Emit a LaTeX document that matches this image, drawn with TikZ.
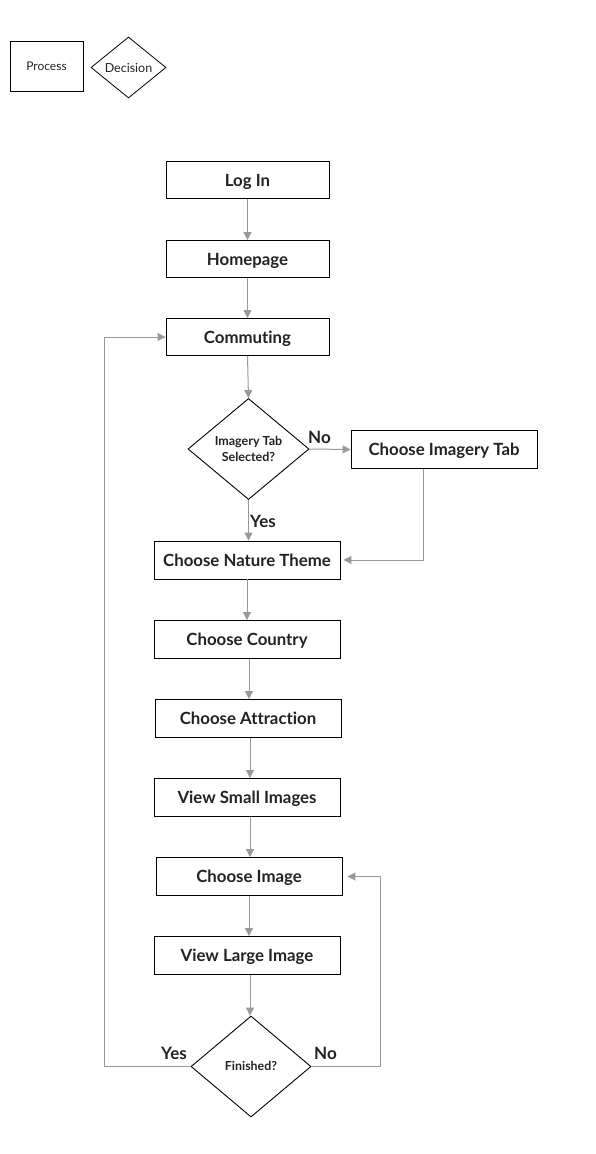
\documentclass[tikz,border=0pt]{standalone}
\usepackage{fontspec}
\setmainfont{Lato}[Ligatures={NoCommon}]
\usetikzlibrary{arrows.meta,shapes.geometric}
\definecolor{conn}{HTML}{999999}
\definecolor{txt}{HTML}{222222}
\tikzset{
  procbox/.style={draw=black,line width=0.9pt,minimum width=186pt,minimum height=38pt,inner sep=0pt,text height=12pt,text depth=0pt,font=\bfseries\fontsize{16.8}{19}\selectfont,text=txt},
  smallbox/.style={draw=black,line width=0.9pt,minimum width=163pt,minimum height=37pt,inner sep=0pt,text height=12pt,text depth=0pt,font=\bfseries\fontsize{16.8}{19}\selectfont,text=txt},
  decis/.style={draw=black,line width=0.9pt,diamond,inner sep=0pt,minimum width=121pt,minimum height=101pt,aspect=1.2,text=txt},
  conn/.style={draw=conn,line width=1pt,-{Triangle[length=8pt,width=8pt]}},
  lbl/.style={font=\bfseries\fontsize{17}{19}\selectfont,text=txt,inner sep=0pt}
}
\begin{document}
\begin{tikzpicture}[x=1pt,y=-1pt]
\useasboundingbox (0,0) rectangle (595,1154);
% legend
\node[draw=black,line width=0.8pt,minimum width=73pt,minimum height=50pt,inner sep=0pt,text height=8.6pt,text depth=0pt,font=\fontsize{12}{14}\selectfont,text=txt] (lp) at (46.5,66) {Process};
\node[draw=black,line width=0.8pt,diamond,inner sep=0pt,minimum width=75pt,minimum height=61pt,text height=9pt,text depth=0pt,font=\fontsize{12.5}{14}\selectfont,text=txt] (ld) at (128.5,67.5) {Decision};
% main
\node[smallbox] (login) at (247.5,180) {Log In};
\node[smallbox] (home) at (247.5,259) {Homepage};
\node[smallbox] (comm) at (247.5,337) {Commuting};
\node[decis,font=\bfseries\fontsize{12.5}{16}\selectfont,align=center] (d1) at (248.5,449) {\raisebox{-2pt}{\shortstack{Imagery Tab\\[1pt]Selected?}}};
\node[procbox] (tab) at (444,449.5) {Choose Imagery Tab};
\node[procbox] (nat) at (247,560) {Choose Nature Theme};
\node[procbox] (cty) at (247,639.5) {Choose Country};
\node[procbox] (att) at (248,718.5) {Choose Attraction};
\node[procbox] (vsi) at (247,797.5) {View Small Images};
\node[procbox] (cim) at (249,876.5) {Choose Image};
\node[procbox] (vli) at (247,955.5) {View Large Image};
\node[decis,minimum width=120pt,minimum height=101pt,text height=8.9pt,text depth=0pt,font=\bfseries\fontsize{12.4}{15}\selectfont] (fin) at (251,1066.5) {Finished?};
% connectors
\draw[conn] (login.south) -- (home.north);
\draw[conn] (home.south) -- (comm.north);
\draw[conn] (comm.south) -- (d1.north);
\draw[conn] (d1.east) -- (tab.west);
\draw[conn] (d1.south) -- (d1.south |- nat.north);
\coordinate (tabdown) at ([xshift=-21pt]tab.south);
\draw[conn] (tabdown) |- ([xshift=3pt]nat.east);
\draw[conn] (nat.south -| cty.north) -- (cty.north);
\draw[conn] ([xshift=2pt]cty.south) -- ([xshift=1pt]att.north);
\draw[conn] ([xshift=2pt]att.south) -- ([xshift=2pt]att.south |- vsi.north);
\draw[conn] ([xshift=3pt]vsi.south) -- ([xshift=1pt]cim.north);
\draw[conn] (cim.south) -- ([xshift=2pt]vli.north);
\draw[conn] ([xshift=3pt]vli.south) -- ([xshift=-1pt]fin.north);
\coordinate (yesl) at (104,1066.5);
\draw[conn] (fin.west) -- (yesl) |- (comm.west);
\coordinate (nor) at (380,1066.5);
\draw[conn] (fin.east) -- (nor) |- ([xshift=5pt]cim.east);
% labels
\node[lbl] (no1) at (319.5,437.5) {No};
\node[lbl] (yes1) at (263,521) {Yes};
\node[lbl] (yes2) at (174,1053) {Yes};
\node[lbl] (no2) at (325.5,1053) {No};
\end{tikzpicture}
\end{document}
